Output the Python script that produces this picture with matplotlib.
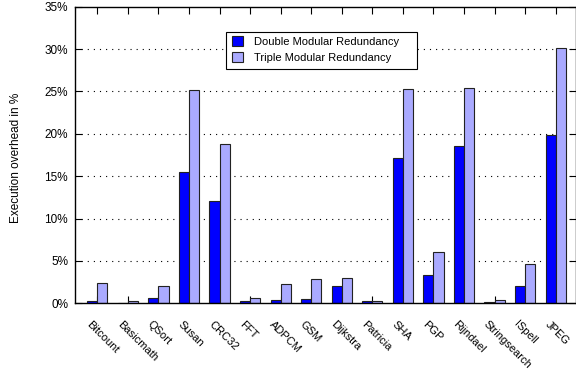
import numpy as np
import matplotlib
matplotlib.use("Agg")
import matplotlib.pyplot as plt
from matplotlib.patches import Rectangle

plt.rcParams["font.family"] = ["Liberation Sans", "DejaVu Sans"]

benchmarks = ["Bitcount", "Basicmath", "QSort", "Susan", "CRC32", "FFT", "ADPCM", "GSM",
              "Dijkstra", "Patricia", "SHA", "PGP", "Rijndael", "Stringsearch", "ISpell", "JPEG"]
dmr = [0.3, 0.05, 0.6, 15.55, 12.1, 0.28, 0.43, 0.5, 2.05, 0.28, 17.2, 3.35, 18.6, 0.15, 2.1, 19.9]
tmr = [2.45, 0.3, 2.05, 25.2, 18.75, 0.6, 2.25, 2.85, 2.95, 0.33, 25.3, 6.0, 25.45, 0.4, 4.65, 30.15]
yticks = [0, 5, 10, 15, 20, 25, 30, 35]

DARK = "#0000ff"; LIGHT = "#aaaaff"; EDGE = "#222222"
W = 0.33

fig = plt.figure(figsize=(5.76, 3.74), dpi=100)
ax = fig.add_axes([75 / 576, 1 - 303.3 / 374, 500.5 / 576, 296.6 / 374])

x = np.arange(len(benchmarks))
for y in yticks[1:-1]:
    ax.axhline(y, color="black", lw=0.8, ls=(0, (1, 4.5)), zorder=0)
ax.bar(x - W / 2, dmr, W, color=DARK, edgecolor=EDGE, lw=0.8, zorder=2,
       label="Double Modular Redundancy")
ax.bar(x + W / 2, tmr, W, color=LIGHT, edgecolor=EDGE, lw=0.8, zorder=2,
       label="Triple Modular Redundancy")

ax.set_xlim(-0.73, 15.65)
ax.set_ylim(0, 35)
ax.set_yticks(yticks)
ax.set_yticklabels([f"{v}%" for v in yticks], fontsize=8.5)
ax.set_xticks(x)
ax.set_xticklabels([])
ax.tick_params(direction="in", length=5, width=0.8, top=True, right=True, pad=5)
for s in ax.spines.values():
    s.set_linewidth(1.0)

# rotated benchmark names hanging below each group
for xi, name in zip(x, benchmarks):
    ax.annotate(name, (xi, 0), xycoords=("data", "axes fraction"),
                xytext=(-4, -11.5), textcoords="offset points",
                rotation=-45, rotation_mode="anchor", ha="left", va="top", fontsize=8)

fig.text(16 / 576, 1 - 158 / 374, "Execution overhead in %", rotation=90,
         ha="center", va="center", fontsize=8.5)

# key box: wider on the right than the entries need, gnuplot style
ax.add_patch(Rectangle((0.302, 0.79), 0.382, 0.125, transform=ax.transAxes,
                       facecolor="white", edgecolor="black", lw=0.8, zorder=4))
leg = ax.legend(loc="upper left", bbox_to_anchor=(0.314, 0.9), borderaxespad=0,
                fontsize=8, frameon=False, handlelength=1.0, handleheight=1.0,
                handletextpad=1.0, labelspacing=0.45, borderpad=0)
leg.set_zorder(5)

fig.savefig("out.png", dpi=100)
